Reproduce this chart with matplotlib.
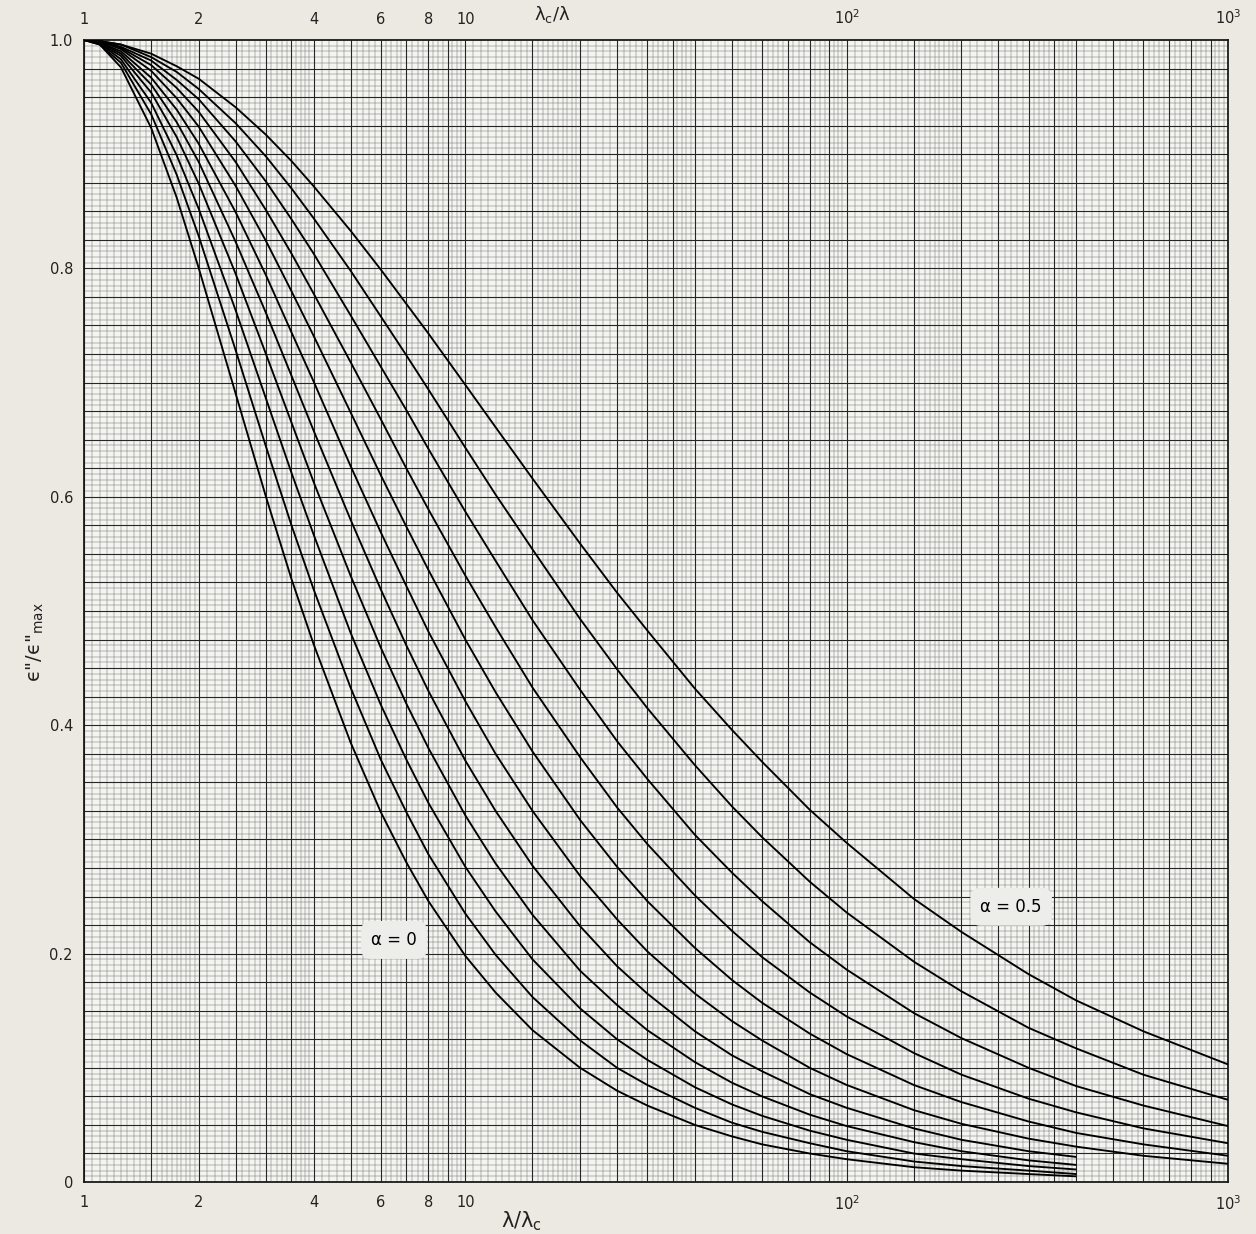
import numpy as np
import matplotlib.pyplot as plt

# wavelength ratio lambda/lambda_c at which the curves were read
lam_ratio = [1, 1.1, 1.25, 1.5, 1.75, 2, 2.5, 3, 3.5, 4, 5, 6, 7, 8, 10, 12, 15,
             20, 25, 30, 40, 50, 60, 80, 100, 150, 200, 300, 400, 600, 1000]

# eps''/eps''max (alpha = 0 ... 0.5)
a000 = [1.0, 0.996, 0.976, 0.923, 0.862, 0.800, 0.690, 0.600, 0.528, 0.471, 0.385,
        0.324, 0.280, 0.246, 0.198, 0.166, 0.133, 0.100, 0.080, 0.067, 0.050,
        0.040, 0.033, 0.025, 0.020, 0.013, 0.010, 0.007, 0.005]
a005 = [1.0, 0.996, 0.980, 0.935, 0.882, 0.828, 0.728, 0.644, 0.575, 0.519, 0.433,
        0.370, 0.324, 0.287, 0.235, 0.199, 0.162, 0.124, 0.100, 0.085, 0.065,
        0.052, 0.044, 0.034, 0.027, 0.018, 0.014, 0.010, 0.007]
a010 = [1.0, 0.997, 0.983, 0.945, 0.899, 0.852, 0.763, 0.686, 0.621, 0.567, 0.481,
        0.418, 0.370, 0.332, 0.276, 0.237, 0.195, 0.152, 0.125, 0.107, 0.083,
        0.068, 0.058, 0.045, 0.037, 0.025, 0.020, 0.014, 0.011]
a015 = [1.0, 0.997, 0.986, 0.954, 0.915, 0.874, 0.795, 0.725, 0.665, 0.613, 0.531,
        0.468, 0.419, 0.380, 0.321, 0.279, 0.234, 0.185, 0.155, 0.133, 0.105,
        0.087, 0.075, 0.059, 0.049, 0.035, 0.027, 0.019, 0.015]
a020 = [1.0, 0.998, 0.988, 0.961, 0.928, 0.893, 0.823, 0.761, 0.706, 0.658, 0.580,
        0.519, 0.470, 0.430, 0.369, 0.325, 0.277, 0.224, 0.189, 0.165, 0.132,
        0.111, 0.097, 0.077, 0.065, 0.047, 0.037, 0.027, 0.022]
a025 = [1.0, 0.998, 0.990, 0.967, 0.939, 0.909, 0.849, 0.794, 0.744, 0.701, 0.627,
        0.569, 0.522, 0.482, 0.421, 0.375, 0.325, 0.268, 0.230, 0.202, 0.165,
        0.141, 0.124, 0.100, 0.085, 0.063, 0.051, 0.038, 0.031, 0.023, 0.016]
a030 = [1.0, 0.999, 0.992, 0.973, 0.949, 0.924, 0.872, 0.824, 0.780, 0.741, 0.674,
        0.619, 0.574, 0.536, 0.475, 0.429, 0.377, 0.317, 0.276, 0.246, 0.205,
        0.177, 0.157, 0.130, 0.112, 0.085, 0.070, 0.053, 0.043, 0.033, 0.023]
a035 = [1.0, 0.999, 0.993, 0.978, 0.958, 0.937, 0.893, 0.851, 0.813, 0.778, 0.718,
        0.668, 0.625, 0.589, 0.531, 0.486, 0.433, 0.372, 0.328, 0.296, 0.251,
        0.220, 0.197, 0.166, 0.145, 0.113, 0.094, 0.073, 0.061, 0.047, 0.034]
a040 = [1.0, 0.999, 0.994, 0.982, 0.965, 0.948, 0.911, 0.876, 0.843, 0.813, 0.759,
        0.714, 0.676, 0.642, 0.587, 0.544, 0.492, 0.431, 0.386, 0.353, 0.304,
        0.271, 0.246, 0.210, 0.186, 0.148, 0.126, 0.100, 0.084, 0.067, 0.049]
a045 = [1.0, 0.999, 0.996, 0.985, 0.972, 0.957, 0.927, 0.898, 0.870, 0.844, 0.798,
        0.758, 0.724, 0.694, 0.643, 0.602, 0.554, 0.493, 0.449, 0.415, 0.365,
        0.329, 0.302, 0.263, 0.236, 0.193, 0.167, 0.135, 0.117, 0.094, 0.072]
a050 = [1.0, 0.999, 0.996, 0.988, 0.977, 0.966, 0.941, 0.917, 0.894, 0.872, 0.833,
        0.799, 0.769, 0.743, 0.698, 0.661, 0.616, 0.559, 0.516, 0.483, 0.432,
        0.396, 0.368, 0.326, 0.297, 0.248, 0.219, 0.182, 0.159, 0.132, 0.103]

curves = [a000, a005, a010, a015, a020, a025, a030, a035, a040, a045, a050]

x_ticks = [1, 2, 4, 6, 8, 10, 100, 1000]
x_ticklabels = ["1", "2", "4", "6", "8", "10", r"$\mathregular{10^2}$",
                r"$\mathregular{10^3}$"]
y_ticks = [0, 0.2, 0.4, 0.6, 0.8, 1.0]
y_ticklabels = ["0", "0.2", "0.4", "0.6", "0.8", "1.0"]

paper = "#ebe9e1"
ink = "#1a1a1a"

fig = plt.figure(figsize=(12.56, 12.34), dpi=100, facecolor=paper)
ax = fig.add_axes([0.0669, 0.0421, 0.9108, 0.9255])
ax.set_facecolor("#f4f4f1")
ax.set_xscale("log")
ax.set_xlim(1, 1000)
ax.set_ylim(0, 1.0)

# log graph paper: heavy and fine rulings
heavy_mant = [1, 1.5, 2, 2.5, 3, 3.5, 4, 5, 6, 7, 8, 9]
light_mant = ([1 + 0.05 * i for i in range(1, 20) if i % 10 != 0]
              + [2 + 0.1 * i for i in range(1, 20) if i % 5 != 0]
              + [4.2, 4.4, 4.6, 4.8, 5.2, 5.4, 5.6, 5.8, 6.2, 6.4, 6.6, 6.8,
                 7.25, 7.5, 7.75, 8.25, 8.5, 8.75, 9.25, 9.5, 9.75])
for dec in [1, 10, 100]:
    for m in light_mant:
        ax.axvline(m * dec, color="#6e6e6a", lw=0.35, zorder=1)
    for m in heavy_mant:
        ax.axvline(m * dec, color="#262626", lw=0.8, zorder=1.5)
for i in range(1, 200):
    yv = i * 0.005
    if i % 5 == 0:
        ax.axhline(yv, color="#262626", lw=0.8, zorder=1.5)
    else:
        ax.axhline(yv, color="#6e6e6a", lw=0.35, zorder=1)

for yc in curves:
    ax.plot(lam_ratio[:len(yc)], yc, color="#000000", lw=1.35, zorder=3,
            solid_capstyle="butt", solid_joinstyle="round")

for s in ax.spines.values():
    s.set_color(ink)
    s.set_linewidth(1.3)

ax.set_xticks(x_ticks)
ax.set_xticklabels(x_ticklabels)
ax.xaxis.set_minor_locator(plt.NullLocator())
ax.set_yticks(y_ticks)
ax.set_yticklabels(y_ticklabels)
ax.tick_params(axis="both", length=0, labelsize=10.5, colors="#222222")
ax.tick_params(axis="x", pad=9, labeltop=True, top=False)
ax.tick_params(axis="y", pad=8)

box = dict(boxstyle="round,pad=0.6", facecolor="#ededea", edgecolor="none")
ax.text(6.5, 0.212, "α = 0", fontsize=12, ha="center", va="center",
        bbox=box, zorder=4)
ax.text(270, 0.241, "α = 0.5", fontsize=12, ha="center", va="center",
        bbox=box, zorder=4)

fig.text(0.028, 0.48, 'ϵ"/ϵ"$_{\\mathregular{max}}$', rotation=90,
         fontsize=14, ha="center", va="center", color="#222222")
fig.text(0.415, 0.010, r"$\mathregular{\lambda/\lambda_c}$", fontsize=15,
         ha="center", va="center", color="#222222")
fig.text(0.44, 0.997, r"$\mathregular{\lambda_c/\lambda}$", fontsize=13,
         ha="center", va="top", color="#222222")

fig.savefig("out.png", dpi=100, facecolor=paper)
